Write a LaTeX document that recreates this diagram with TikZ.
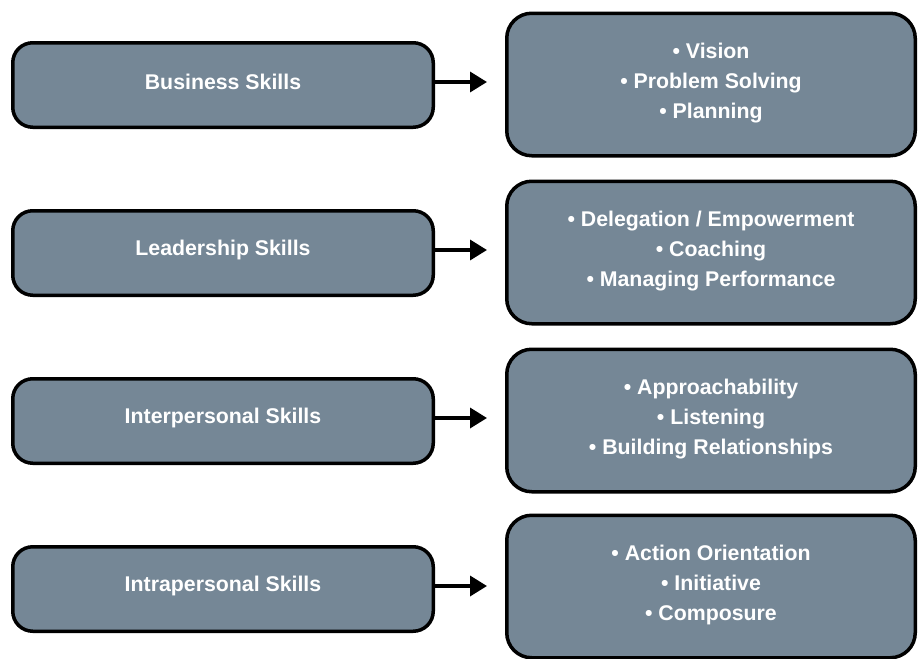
\documentclass[tikz,border=0pt]{standalone}
\usepackage{fontspec}
\setmainfont{Liberation Sans}
\usetikzlibrary{arrows.meta}
\definecolor{slate}{RGB}{117,135,150}
\newcommand{\liftup}[2]{\raisebox{0pt}[\height][\dimexpr\depth+#1\relax]{#2}}
\newcommand{\itemlist}[1]{\liftup{4pt}{\begin{tabular}{@{}c@{}}#1\end{tabular}}}
\tikzset{
  skillbox/.style={draw=black, line width=3.5pt, fill=slate, rounded corners=20pt,
    minimum width=420.5pt, minimum height=84.5pt, inner sep=0pt,
    text=white, font=\fontsize{21.3}{30}\selectfont\bfseries},
  itembox/.style={draw=black, line width=3.5pt, fill=slate, rounded corners=25pt,
    minimum width=408.5pt, minimum height=142.5pt, inner sep=0pt,
    text=white, font=\fontsize{21.3}{30}\selectfont\bfseries},
  arr/.style={line width=3.5pt, -{Triangle[length=17pt,width=20pt]}, shorten >=18pt}
}
\begin{document}
\begin{tikzpicture}[x=1pt,y=-1pt]
\useasboundingbox (0,0) rectangle (919,659);
\node[skillbox] (l1) at (223,85) {\liftup{6pt}{Business Skills}};
\node[skillbox] (l2) at (223,253) {\liftup{6pt}{Leadership Skills}};
\node[skillbox] (l3) at (223,421) {\liftup{6pt}{Interpersonal Skills}};
\node[skillbox] (l4) at (223,589) {\liftup{6pt}{Intrapersonal Skills}};
\node[itembox] (r1) at (711,84.5) {\itemlist{• Vision\\• Problem Solving\\• Planning}};
\node[itembox] (r2) at (711,252.5) {\itemlist{• Delegation / Empowerment\\• Coaching\\• Managing Performance}};
\node[itembox] (r3) at (711,420.5) {\itemlist{• Approachability\\• Listening\\• Building Relationships}};
\node[itembox] (r4) at (711,586.5) {\itemlist{• Action Orientation\\• Initiative\\• Composure}};
\foreach \i in {1,2,3,4}{
  \draw[arr] ([yshift=3pt]l\i.east) -- ([yshift=3pt]l\i.east -| r\i.west);
}
\end{tikzpicture}
\end{document}
